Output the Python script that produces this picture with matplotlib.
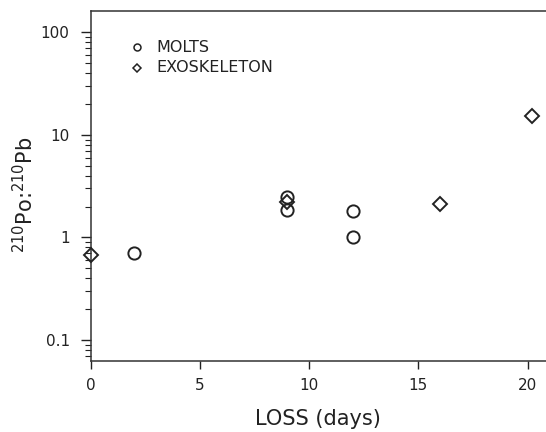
import matplotlib
matplotlib.use("Agg")
import matplotlib.pyplot as plt
from matplotlib.ticker import LogLocator, FixedLocator, NullFormatter

plt.rcParams['font.family'] = ['DejaVu Sans']

molts_x = [2, 9, 9, 12, 12]
molts_y = [0.71, 2.48, 1.87, 1.8, 1.0]
exo_x = [0, 9, 16, 20.2]
exo_y = [0.67, 2.2, 2.1, 15.2]
xticks = [0, 5, 10, 15, 20]
yticks = [0.1, 1, 10, 100]
yticklabels = ["0.1", "1", "10", "100"]

W, H = 546, 432
fig = plt.figure(figsize=(W / 100, H / 100), dpi=100)
left_px, right_px, top_px, bot_px = 90.5, 571.2, 11, 361
ax = fig.add_axes([left_px / W, 1 - bot_px / H, (right_px - left_px) / W, (bot_px - top_px) / H])
ax.set_yscale('log')
ax.set_xlim(0, 22)
ax.set_ylim(0.0625, 161)

ink = '#222222'
ax.plot(molts_x, molts_y, linestyle='none', marker='o', ms=8.8, mfc='white',
        mec=ink, mew=1.4, clip_on=False, zorder=3)
ax.plot(exo_x, exo_y, linestyle='none', marker='D', ms=7.2, mfc='none',
        mec=ink, mew=1.4, clip_on=False, zorder=4)

ax.set_xticks(xticks)
ax.set_xticklabels([str(t) for t in xticks])
ax.yaxis.set_major_locator(FixedLocator(yticks))
ax.set_yticklabels(yticklabels)
ax.yaxis.set_minor_locator(LogLocator(base=10, subs=range(2, 10), numticks=20))
ax.yaxis.set_minor_formatter(NullFormatter())

ax.tick_params(axis='both', which='major', direction='out', length=6, width=1,
               labelsize=11, colors=ink)
ax.tick_params(axis='y', which='major', length=7, pad=8)
ax.tick_params(axis='x', which='major', pad=6)
ax.tick_params(axis='y', which='minor', direction='out', length=4, width=0.8,
               colors=ink)

for s in ['left', 'bottom', 'top']:
    ax.spines[s].set_linewidth(1.1)
    ax.spines[s].set_color('#333333')
ax.spines['right'].set_visible(False)

fig.text(318 / W, 1 - 419 / H, 'LOSS (days)', fontsize=15, color=ink,
         ha='center', va='center')
fig.text(25 / W, 1 - 195 / H, r'$^{210}$Po:$^{210}$Pb', fontsize=15, color=ink,
         ha='center', va='center', rotation=90)

# legend
ax.plot([137 / W], [1 - 47 / H], marker='o', ms=5, mfc='white', mec=ink,
        mew=1.1, transform=fig.transFigure, clip_on=False)
ax.plot([137 / W], [1 - 68 / H], marker='D', ms=4.2, mfc='white', mec=ink,
        mew=1.1, transform=fig.transFigure, clip_on=False)
fig.text(156 / W, 1 - 47 / H, 'MOLTS', fontsize=11.5, va='center', ha='left',
         color=ink)
fig.text(156 / W, 1 - 68 / H, 'EXOSKELETON', fontsize=11.5, va='center', ha='left',
         color=ink)

fig.savefig('out.png', dpi=100)
